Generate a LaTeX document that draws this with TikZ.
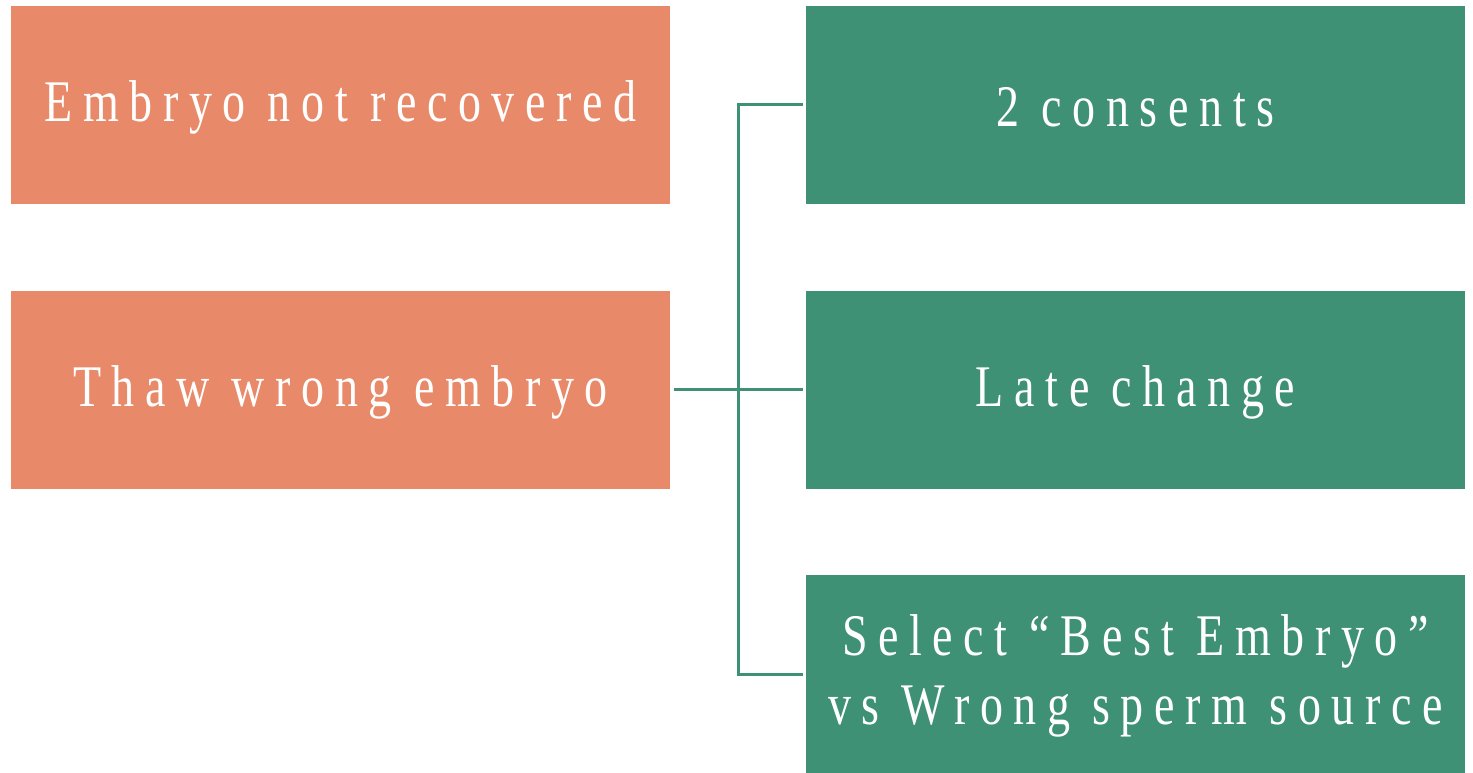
\documentclass[tikz,border=0pt]{standalone}
\usepackage{fontspec}
\newfontfamily\labelfont[LetterSpace=18,FakeStretch=0.78]{Liberation Serif}
\definecolor{coral}{HTML}{E88A69}
\definecolor{teal}{HTML}{3E9174}
\tikzset{
  box/.style={minimum width=659pt, minimum height=198pt, inner sep=0pt,
    text=white, font=\labelfont\fontsize{59}{69}\selectfont, align=center},
  causebox/.style={box, fill=coral},
  effectbox/.style={box, fill=teal},
  link/.style={draw=teal, line width=3pt}
}
\begin{document}
\begin{tikzpicture}[x=1pt,y=-1pt]
  \useasboundingbox (0,0) rectangle (1473,772);
  % left column: causes
  \node[causebox] (c1) at (340.5,105) {};
  \node[causebox] (c2) at (340.5,390) {};
  % right column: effects
  \node[effectbox] (e1) at (1135.5,105) {};
  \node[effectbox] (e2) at (1135.5,390) {};
  \node[effectbox] (e3) at (1135.5,674) {};
  % labels, set slightly below the box centres
  \node[box, yshift=-2.5pt] (t1) at (c1) {Embryo not recovered};
  \node[box, yshift=-2.5pt] (t2) at (c2) {Thaw wrong embryo};
  \node[box, yshift=-2.5pt] (t3) at (e1) {2 consents};
  \node[box, yshift=-2.5pt] (t4) at (e2) {Late change};
  \node[box, yshift=-1.5pt] (t5) at (e3) {Select “Best Embryo”\\vs Wrong sperm source};
  % bracket connector
  \coordinate (j) at (738,389);
  \draw[link] ([xshift=4pt]c2.east |- j) -- ([xshift=-3pt]e2.west |- j);
  \draw[link] ([xshift=-3pt]e1.west |- 0,104) -| (738,674) -- ([xshift=-3pt]e3.west |- 0,674);
\end{tikzpicture}
\end{document}
